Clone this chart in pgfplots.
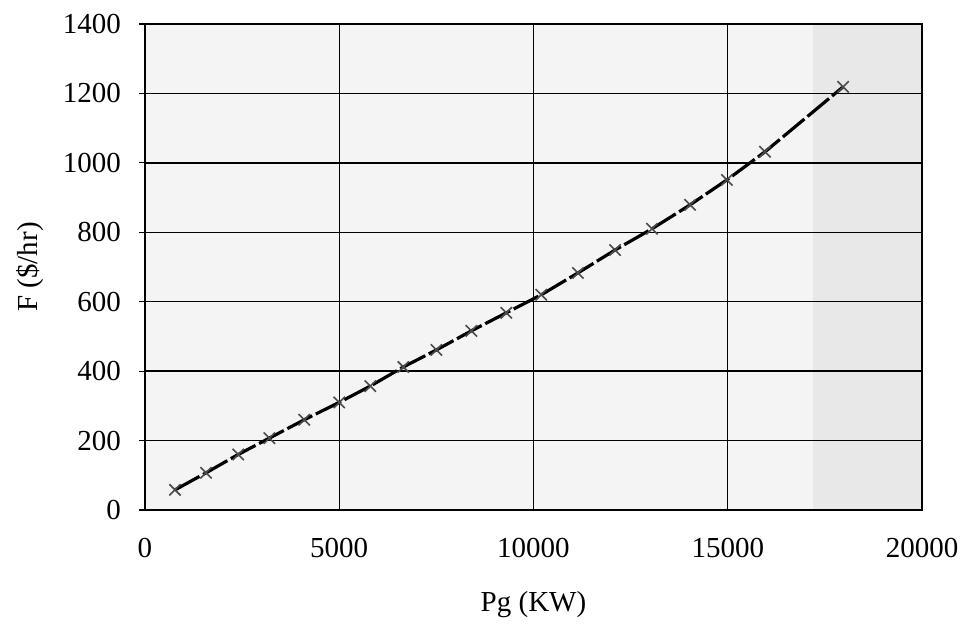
\documentclass[border=0pt]{standalone}
\usepackage{fontspec}
\setmainfont{Liberation Serif}
\usepackage{pgfplots}
\pgfplotsset{compat=1.18}
\begin{document}
\fontsize{14.5}{17}\selectfont
\begin{tikzpicture}
\useasboundingbox (-72.5pt,-61pt) rectangle (409.5pt,255pt);
\begin{axis}[
  at={(0pt,0pt)}, anchor=south west,
  scale only axis, width=388.5pt, height=243pt,
  xmin=0, xmax=20000, ymin=0, ymax=1400,
  xtick={0,5000,...,20000}, ytick={0,200,...,1400},
  scaled x ticks=false,
  /pgf/number format/.cd, assume math mode=true, 1000 sep={}, /pgfplots/.cd,
  tick label style={font=\fontsize{14.5}{17}\selectfont},
  label style={font=\fontsize{14.5}{17}\selectfont},
  xlabel={Pg (KW)}, ylabel={F (\$/hr)},
  xlabel style={at={(0.5,0)}, anchor=center, yshift=-47.5pt},
  every axis y label/.append style={at={(-57.5pt,121.5pt)}, anchor=center},
  yticklabel style={xshift=-4pt},
  xticklabel style={yshift=-6pt},
  tick align=outside, major tick length=3pt,
  ytick pos=left,
  xtick style={draw=none},
  ytick style={black, line width=0.6pt},
  grid=major, major grid style={black, line width=0.7pt},
  axis line style={black, line width=0.8pt},
  axis background/.style={fill=gray!9,
    path picture={\fill[gray!18] (path picture bounding box.south east) rectangle ([xshift=-54.4pt]path picture bounding box.north east);}},
]
\addplot[black, line width=1.6pt, dash pattern=on 14pt off 2pt,
  mark=x, mark size=4pt, mark options={solid, gray!60!black, line width=0.8pt}]
  coordinates {
  (772,58) (1570,107) (2400,160) (3200,207) (4100,260) (5000,310)
  (5800,357) (6650,412) (7500,461) (8400,516) (9300,568) (10200,620)
  (11145,683) (12100,749) (13050,810) (14030,879) (14980,951)
  (15960,1032) (17970,1219)
  };
\end{axis}
\end{tikzpicture}
\end{document}
